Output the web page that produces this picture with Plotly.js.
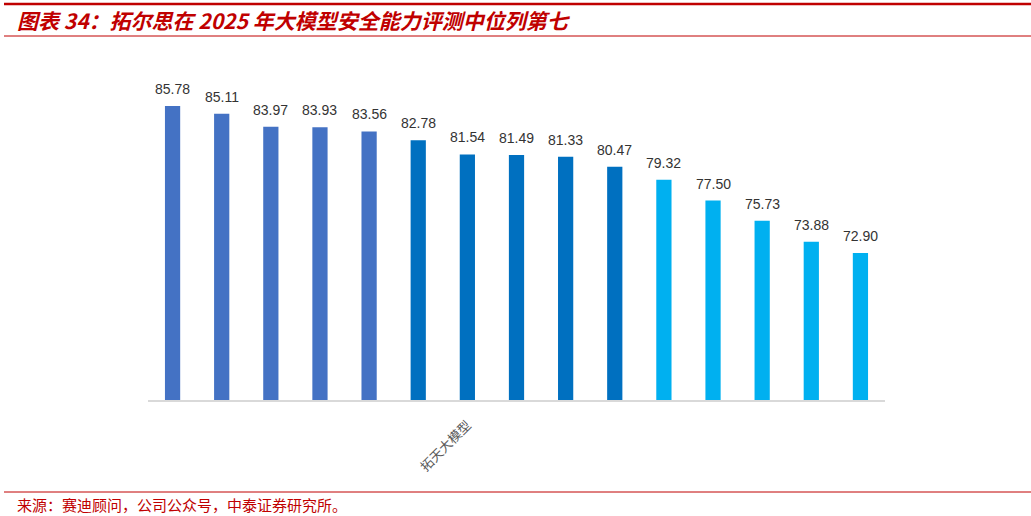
<!DOCTYPE html>
<html><head><meta charset="utf-8">
<script src="https://cdn.plot.ly/plotly-3.0.1.min.js"></script>
<style>html,body{margin:0;padding:0;background:#fff;}#chart{width:1031px;height:516px;}</style>
</head><body><div id="chart"></div>
<script>
const tickLabels = ["", "", "", "", "", "", "拓天大模型", "", "", "", "", "", "", "", ""];
const scores = [85.78, 85.11, 83.97, 83.93, 83.56, 82.78, 81.54, 81.49, 81.33, 80.47, 79.32, 77.50, 75.73, 73.88, 72.90];
const groupColors = ["#4472C4", "#4472C4", "#4472C4", "#4472C4", "#4472C4",
                     "#0070C0", "#0070C0", "#0070C0", "#0070C0", "#0070C0",
                     "#00B0F0", "#00B0F0", "#00B0F0", "#00B0F0", "#00B0F0"];
const titleText = "图表 34：拓尔思在 2025 年大模型安全能力评测中位列第七";
const sourceText = "来源：赛迪顾问，公司公众号，中泰证券研究所。";

const W = 1031, H = 516;
const L = 148, R = 885, T = 58, B = 400;
const px = v => (v - L) / (R - L);
const py = v => (B - v) / (B - T);

const xs = scores.map((_, i) => i);

const trace = {
  type: 'bar', x: xs, y: scores,
  marker: {color: groupColors},
  hoverinfo: 'none'
};

const labelAnns = scores.map((v, i) => ({
  x: i, y: v, xref: 'x', yref: 'y', text: v.toFixed(2),
  showarrow: false, yanchor: 'bottom', yshift: 7,
  font: {family: 'Liberation Sans, Arial, sans-serif', size: 14, color: '#333333'}
}));

const layout = {
  width: W, height: H,
  margin: {l: L, r: W - R, t: T, b: H - B},
  paper_bgcolor: '#ffffff', plot_bgcolor: '#ffffff',
  showlegend: false,
  bargap: 0.69,
  xaxis: {
    range: [-0.5, 14.5], tickvals: xs, ticktext: tickLabels,
    tickangle: -45, ticks: '', showgrid: false, zeroline: false,
    showline: true, linecolor: '#d9d9d9', linewidth: 1.5,
    ticklabelstandoff: 11,
    tickfont: {family: 'Noto Sans CJK SC, sans-serif', size: 13, color: '#595959'}
  },
  yaxis: {range: [60, 90], visible: false, showgrid: false, zeroline: false},
  annotations: labelAnns.concat([
    {xref: 'paper', yref: 'paper', x: px(15), y: py(20), xanchor: 'left', yanchor: 'middle',
     text: '<b><i>' + titleText + '</i></b>', showarrow: false,
     font: {family: 'Noto Sans CJK SC, sans-serif', size: 21, color: '#C00000'}},
    {xref: 'paper', yref: 'paper', x: px(15), y: py(504), xanchor: 'left', yanchor: 'middle',
     text: sourceText, showarrow: false,
     font: {family: 'Noto Sans CJK SC, sans-serif', size: 15, color: '#C00000'}}
  ]),
  shapes: [
    {type: 'line', xref: 'paper', yref: 'paper', x0: px(4), x1: px(1031), y0: py(4), y1: py(4),
     line: {color: '#C00000', width: 2.5}},
    {type: 'line', xref: 'paper', yref: 'paper', x0: px(4), x1: px(1031), y0: py(36), y1: py(36),
     line: {color: '#C00000', width: 1}},
    {type: 'line', xref: 'paper', yref: 'paper', x0: px(4), x1: px(1031), y0: py(492), y1: py(492),
     line: {color: '#C00000', width: 1}}
  ]
};

Plotly.newPlot('chart', [trace], layout, {displayModeBar: false, staticPlot: true});
</script></body></html>
